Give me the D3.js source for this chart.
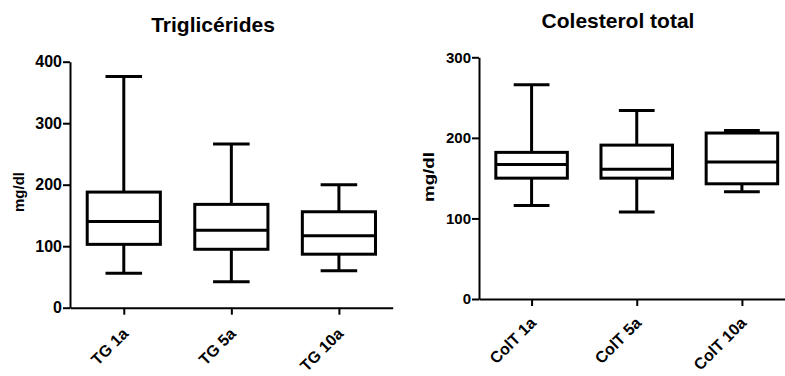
<!DOCTYPE html>
<html>
<head>
<meta charset="utf-8">
<script src="https://cdn.jsdelivr.net/npm/d3@7"></script>
<style>
  body { margin: 0; background: #fff; }
  svg text { font-family: "Liberation Sans", Arial, sans-serif; font-weight: bold; fill: #000; }
</style>
</head>
<body>
<div id="chart"></div>
<script>
// Triglicérides
const tgCategories = ["TG 1a", "TG 5a", "TG 10a"];
const tgMin = [56, 42, 60];
const tgQ1 = [103, 95, 87];
const tgMedian = [140, 126, 117];
const tgQ3 = [188, 168, 156];
const tgMax = [376, 266, 200];
const tgTicks = [0, 100, 200, 300, 400];

// Colesterol total
const colCategories = ["ColT 1a", "ColT 5a", "ColT 10a"];
const colMin = [116, 108, 133];
const colQ1 = [150, 150, 143];
const colMedian = [167, 161, 170];
const colQ3 = [182, 191, 206];
const colMax = [266, 234, 209];
const colTicks = [0, 100, 200, 300];

const svg = d3.select("#chart").append("svg")
    .attr("width", 785)
    .attr("height", 376);

function drawPanel(p) {
    const g = svg.append("g");
    const y = d3.scaleLinear().domain([0, p.ticks[p.ticks.length - 1]]).range([p.bottom, p.top]);
    const x = d3.scalePoint().domain(p.categories).range([p.left, p.right]).padding(0.5);
    const boxW = x.step() * 0.68;

    const rows = p.categories.map((c, i) => ({
        cat: c, min: p.min[i], q1: p.q1[i], med: p.median[i], q3: p.q3[i], max: p.max[i]
    }));

    // y axis
    const yAxis = g.append("g")
        .attr("transform", `translate(${p.left},0)`)
        .call(d3.axisLeft(y).tickValues(p.ticks).tickSize(7).tickSizeOuter(0).tickPadding(1));
    yAxis.selectAll("path, line").attr("stroke", "#000").attr("stroke-width", 2);
    yAxis.selectAll("text").style("font-size", p.tickFont + "px");

    // x axis
    const xAxis = g.append("g")
        .attr("transform", `translate(0,${p.bottom})`)
        .call(d3.axisBottom(x).tickSize(7).tickSizeOuter(0));
    xAxis.selectAll("path, line").attr("stroke", "#000").attr("stroke-width", 2);
    xAxis.selectAll("text").remove();
    xAxis.selectAll(".tick").append("text")
        .attr("text-anchor", "end")
        .attr("transform", `translate(5,${p.labelDy}) rotate(-45)`)
        .style("font-size", p.catFont + "px")
        .text(d => d);

    // boxes
    const box = g.selectAll(".box").data(rows).enter().append("g")
        .attr("class", "box")
        .attr("fill", "none")
        .attr("stroke", "#000")
        .attr("stroke-width", 3);

    box.append("line")
        .attr("x1", d => x(d.cat)).attr("x2", d => x(d.cat))
        .attr("y1", d => y(d.max)).attr("y2", d => y(d.q3));
    box.append("line")
        .attr("x1", d => x(d.cat)).attr("x2", d => x(d.cat))
        .attr("y1", d => y(d.q1)).attr("y2", d => y(d.min));
    box.append("line")
        .attr("x1", d => x(d.cat) - boxW / 4).attr("x2", d => x(d.cat) + boxW / 4)
        .attr("y1", d => y(d.max)).attr("y2", d => y(d.max));
    box.append("line")
        .attr("x1", d => x(d.cat) - boxW / 4).attr("x2", d => x(d.cat) + boxW / 4)
        .attr("y1", d => y(d.min)).attr("y2", d => y(d.min));
    box.append("rect")
        .attr("x", d => x(d.cat) - boxW / 2)
        .attr("y", d => y(d.q3))
        .attr("width", boxW)
        .attr("height", d => y(d.q1) - y(d.q3));
    box.append("line")
        .attr("x1", d => x(d.cat) - boxW / 2).attr("x2", d => x(d.cat) + boxW / 2)
        .attr("y1", d => y(d.med)).attr("y2", d => y(d.med));

    // title and y label
    g.append("text")
        .attr("x", p.titleX).attr("y", p.titleY)
        .attr("text-anchor", "middle")
        .style("font-size", "21px")
        .text(p.title);
    g.append("text")
        .attr("text-anchor", "middle")
        .attr("transform", `translate(${p.yLabelX},${p.yLabelY}) rotate(-90) scale(${p.yLabelStretch},1)`)
        .style("font-size", "15px")
        .text("mg/dl");
}

drawPanel({
    categories: tgCategories, min: tgMin, q1: tgQ1, median: tgMedian, q3: tgQ3, max: tgMax,
    ticks: tgTicks, left: 70, right: 392.7, top: 61.7, bottom: 307.7,
    tickFont: 16, catFont: 16, labelDy: 27,
    title: "Triglicérides", titleX: 213, titleY: 32,
    yLabelX: 24, yLabelY: 192, yLabelStretch: 1
});

drawPanel({
    categories: colCategories, min: colMin, q1: colQ1, median: colMedian, q3: colQ3, max: colMax,
    ticks: colTicks, left: 479, right: 794.5, top: 57.3, bottom: 299,
    tickFont: 15, catFont: 16, labelDy: 25,
    title: "Colesterol total", titleX: 618, titleY: 28,
    yLabelX: 434, yLabelY: 177, yLabelStretch: 1.25
});
</script>
</body>
</html>
